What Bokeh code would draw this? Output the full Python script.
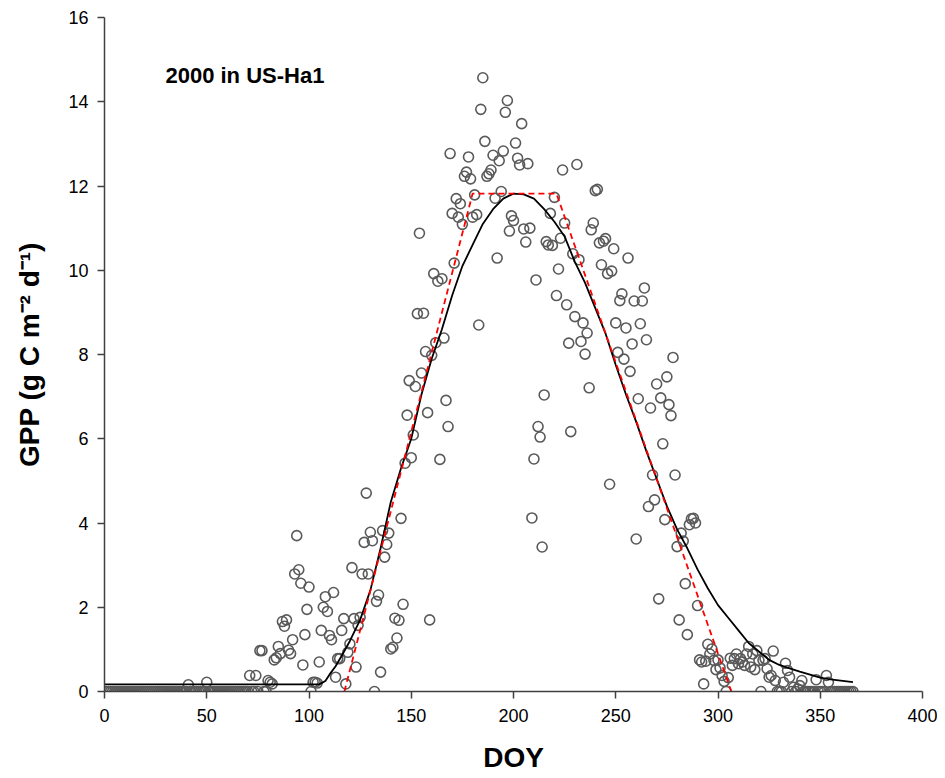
from bokeh.plotting import figure
from bokeh.models import Range1d, FixedTicker, Label, ColumnDataSource
from bokeh.embed import file_html
from bokeh.resources import INLINE

# ---- data ----
doy = list(range(1, 367))
gpp = [
    0.0, 0.0, 0.0, 0.0, 0.0, 0.0, 0.0, 0.0, 0.0, 0.0,          # 1-10
    0.0, 0.0, 0.0, 0.0, 0.0, 0.0, 0.0, 0.0, 0.0, 0.0,          # 11-20
    0.0, 0.0, 0.0, 0.0, 0.0, 0.0, 0.0, 0.0, 0.0, 0.0,          # 21-30
    0.0, 0.0, 0.0, 0.0, 0.0, 0.0, 0.0, 0.0, 0.0, 0.0,          # 31-40
    0.16, 0.0, 0.0, 0.0, 0.0, 0.0, 0.0, 0.0, 0.0, 0.22,        # 41-50
    0.0, 0.0, 0.0, 0.0, 0.0, 0.0, 0.0, 0.0, 0.0, 0.0,          # 51-60
    0.0, 0.0, 0.0, 0.0, 0.0, 0.0, 0.0, 0.0, 0.0, 0.0,          # 61-70
    0.38, 0.0, 0.0, 0.38, 0.0, 0.97, 0.97, 0.0, 0.0, 0.26,     # 71-80
    0.22, 0.18, 0.75, 0.80, 1.07, 0.90, 1.66, 1.55, 1.70, 0.98,  # 81-90
    0.90, 1.23, 2.79, 3.70, 2.89, 2.57, 0.63, 1.35, 1.95, 2.48,  # 91-100
    0.00, 0.22, 0.22, 0.20, 0.70, 1.45, 2.00, 2.25, 1.90, 1.33,  # 101-110
    1.23, 2.35, 0.34, 0.78, 0.78, 1.45, 1.73, 0.18, 0.93, 1.13,  # 111-120
    2.94, 1.73, 0.58, 1.57, 1.76, 2.79, 3.54, 4.71, 2.79, 3.78,  # 121-130
    3.58, 0.00, 2.14, 2.29, 0.46, 3.82, 3.19, 3.49, 3.76, 1.01,  # 131-140
    1.05, 1.74, 1.27, 1.69, 4.11, 2.07, 5.42, 6.56, 7.38, 5.55,  # 141-150
    6.09, 7.24, 8.97, 10.88, 7.56, 8.98, 8.07, 6.62, 1.70, 7.98,  # 151-160
    9.92, 8.28, 9.74, 5.51, 9.80, 8.39, 6.91, 6.29, 12.77, 11.35,  # 161-170
    10.17, 11.70, 11.26, 11.58, 11.09, 12.23, 12.33, 12.69, 12.17, 11.26,  # 171-180
    11.79, 11.32, 8.70, 13.82, 14.57, 13.06, 12.23, 12.29, 12.38, 12.73,  # 181-190
    11.71, 10.29, 12.60, 11.87, 12.83, 13.75, 14.03, 10.93, 11.29, 11.18,  # 191-200
    13.02, 12.66, 12.50, 13.48, 10.98, 10.67, 12.53, 11.00, 4.12, 5.52,  # 201-210
    9.77, 6.29, 6.04, 3.43, 7.04, 10.68, 10.60, 11.35, 10.59, 11.73,  # 211-220
    9.40, 10.03, 10.76, 12.38, 11.12, 9.18, 8.27, 6.17, 10.39, 8.90,  # 221-230
    12.51, 10.25, 8.31, 8.75, 8.01, 8.51, 7.21, 10.96, 11.12, 11.89,  # 231-240
    11.92, 10.65, 10.13, 10.69, 10.75, 9.92, 4.92, 9.98, 10.51, 8.75,  # 241-250
    8.05, 9.28, 9.44, 7.89, 8.63, 10.29, 7.60, 8.25, 9.27, 3.62,  # 251-260
    6.95, 8.73, 9.27, 9.58, 8.35, 4.39, 6.73, 5.14, 4.55, 7.30,  # 261-270
    2.20, 6.97, 5.88, 4.08, 7.47, 6.81, 6.55, 7.93, 5.14, 3.44,  # 271-280
    1.70, 3.76, 3.57, 2.56, 1.35, 3.96, 4.10, 4.11, 4.00, 2.04,  # 281-290
    0.75, 0.70, 0.18, 0.72, 1.12, 0.89, 1.01, 0.74, 0.52, 0.75,  # 291-300
    0.56, 0.38, 0.24, 0.00, 0.33, 0.79, 0.62, 0.78, 0.89, 0.66,  # 301-310
    0.78, 0.70, 0.62, 0.89, 1.07, 0.58, 0.89, 0.52, 0.97, 0.74,  # 311-320
    0.00, 0.74, 0.78, 0.54, 0.34, 0.38, 0.96, 0.26, 0.00, 0.00,  # 321-330
    0.00, 0.22, 0.67, 0.50, 0.34, 0.00, 0.10, 0.00, 0.06, 0.14,  # 331-340
    0.26, 0.0, 0.0, 0.0, 0.0, 0.0, 0.0, 0.28, 0.0, 0.0,        # 341-350
    0.0, 0.0, 0.38, 0.22, 0.0, 0.0, 0.0, 0.0, 0.0, 0.0,        # 351-360
    0.0, 0.0, 0.0, 0.0, 0.0, 0.0,                              # 361-366
]

# fitted smooth curve (black)
curve_doy = [0, 100, 105, 108, 110, 113, 116, 120, 125, 130, 135, 140, 145, 150,
             155, 160, 165, 170, 175, 180, 185, 190, 195, 200, 205, 210, 215, 220,
             225, 230, 235, 240, 245, 250, 255, 260, 265, 270, 275, 280, 285, 290,
             295, 300, 305, 310, 315, 320, 325, 330, 335, 340, 345, 350, 355, 360, 366]
curve_gpp = [0.17, 0.17, 0.17, 0.25, 0.40, 0.60, 0.85, 1.20, 1.70, 2.40, 3.40, 4.50, 5.30, 6.00,
             7.05, 7.90, 8.60, 9.40, 10.10, 10.60, 11.10, 11.45, 11.70, 11.82, 11.80, 11.70, 11.45, 11.15,
             10.80, 10.20, 9.70, 9.10, 8.50, 7.75, 7.05, 6.40, 5.70, 5.05, 4.40, 3.85, 3.40, 2.90,
             2.45, 2.05, 1.75, 1.45, 1.15, 0.95, 0.75, 0.63, 0.55, 0.47, 0.40, 0.33, 0.29, 0.26, 0.22]

# piecewise-linear (trapezoid) model, red dashed
trap_doy = [117.3, 180.0, 221.0, 306.5]
trap_gpp = [0.0, 11.82, 11.82, 0.0]

x_ticks = [0, 50, 100, 150, 200, 250, 300, 350, 400]
y_ticks = [0, 2, 4, 6, 8, 10, 12, 14, 16]

p = figure(width=937, height=776, output_backend="svg", toolbar_location=None,
           x_range=Range1d(0, 400), y_range=Range1d(0, 16),
           min_border_left=104, min_border_right=15, min_border_top=17, min_border_bottom=85)
p.outline_line_color = None
p.xgrid.visible = False
p.ygrid.visible = False

src = ColumnDataSource(dict(doy=doy, gpp=gpp))
p.scatter("doy", "gpp", source=src, marker="circle", size=10, fill_color=None,
          line_color="#5a5a5a", line_width=1.6)
p.line(curve_doy, curve_gpp, line_color="black", line_width=1.8)
p.line(trap_doy, trap_gpp, line_color="#ff0000", line_width=1.8, line_dash="6 4")

p.xaxis.ticker = FixedTicker(ticks=x_ticks)
p.yaxis.ticker = FixedTicker(ticks=y_ticks)
for ax in (p.xaxis, p.yaxis):
    ax.minor_tick_line_color = None
    ax.major_tick_in = 0
    ax.major_tick_out = 7
    ax.axis_line_color = "#404040"
    ax.axis_line_width = 1.5
    ax.major_tick_line_color = "#404040"
    ax.major_tick_line_width = 1.5
    ax.major_label_text_font = "Liberation Sans"
    ax.major_label_text_font_size = "18px"
    ax.major_label_text_color = "black"
    ax.axis_label_text_font = "Liberation Sans"
    ax.axis_label_text_font_style = "bold"
    ax.axis_label_text_font_size = "28px"
    ax.axis_label_text_color = "black"

p.xaxis.axis_label = "DOY"
p.yaxis.axis_label = "GPP (g C m\u207b\u00b2 d\u207b\u00b9)"
p.xaxis.major_label_standoff = 10
p.yaxis.major_label_standoff = 9
p.xaxis.axis_label_standoff = 17
p.yaxis.axis_label_standoff = 20

p.add_layout(Label(x=29.8, y=14.62, text="2000 in US-Ha1", text_font="Liberation Sans",
                   text_font_style="bold", text_font_size="22px", text_baseline="middle",
                   text_color="black"))

open("out.html", "w").write(file_html(p, INLINE))
